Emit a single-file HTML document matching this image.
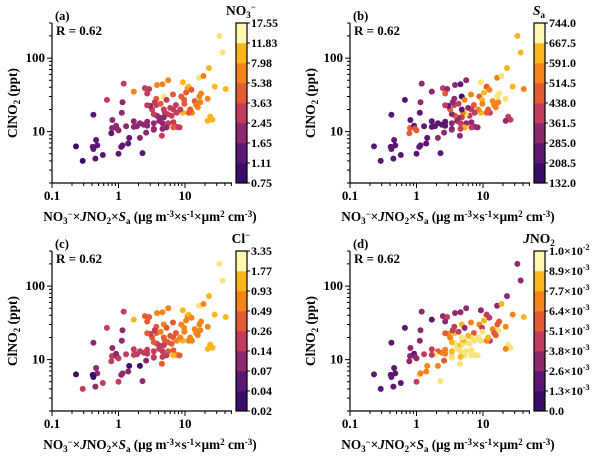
<!DOCTYPE html>
<html><head><meta charset="utf-8"><style>
html,body{margin:0;padding:0;background:#fff}
svg{display:block;font-family:"Liberation Serif",serif;font-weight:bold}
</style></head><body>
<svg id="chart" width="600" height="458" viewBox="0 0 600 458"></svg>
<script>
// shared point data: x = NO3-×JNO2×Sa, y = ClNO2 (ppt)
const xs=[33,37,23,16.3,19,28,41,22,24,26,22,5.6,9.3,4.6,3.8,1.7,1.2,2.5,2.9,2.7,4.8,3.7,5.3,6.6,8.8,10.4,11,11.4,12.5,16.5,17.5,14,17,15.6,12.7,14.7,9.7,9.8,9.3,11.4,12,8.5,7.3,6.7,6,7.5,6.3,5.5,5,4.8,4.2,3.8,3.4,3.2,3.7,4.3,4.8,4.1,4.6,5.6,6.7,7.6,6.7,8.3,5.3,4.6,3.4,3.4,2.7,2.4,2.1,1.9,1.7,1.3,1.7,2.7,3.4,4.5,3,3.5,2.7,1.15,1.12,0.67,0.81,0.8,0.92,0.95,0.78,1.0,1.1,1.15,1.45,1.4,0.42,1.0,0.58,0.46,0.48,0.41,0.42,0.23,0.29,0.45,2.3,2.1,2.6];
const ys=[200,119,73,54,57,41,38,28,16,14.5,14,50,47,44,43,35,45,39,38,33,30,28,27,32,30,34,39,41,37,30,33,26,25,21.5,18,23,27,24,18,18,20,20,23,20,21,18,16.4,17.3,18,15.6,15.4,16.4,17.3,20,23,24,20,14,13,13,13.4,11.6,11.4,11.4,11.4,10.9,13,10.9,12,12.4,13,11.8,11.6,11.8,13.8,13.6,10.6,8.8,22.4,25,22.8,25,18,27,14.4,11.2,12,11,9.5,10.4,6.2,6.5,8.2,6.9,17,5.0,4.8,7.7,6.5,6.2,5.8,6.3,4.0,4.3,5.1,8.2,9.7];
// colour levels (colorbar bin index 0-7) per panel
const levA=[7,7,6,7,5,6,6,5,6,6,6,5,6,5,5,5,3,3,3,3,7,4,3,4,4,4,5,6,4,5,5,4,5,5,5,5,4,4,6,4,4,3,3,3,3,3,3,3,3,2,2,2,3,3,3,4,3,2,2,3,3,3,4,3,2,2,2,2,2,2,2,2,2,2,2,2,2,3,2,3,3,2,2,3,2,2,2,2,1,2,1,1,1,1,1,1,1,1,1,1,1,0,0,1,1,2,2];
const levB=[6,6,6,5,7,6,5,7,3,3,2,2,7,1,2,2,2,3,2,4,0,2,5,5,4,6,7,4,5,7,7,5,5,5,3,5,6,5,6,4,4,5,4,3,2,3,3,7,5,3,2,4,2,4,3,3,1,2,3,2,2,2,3,2,6,3,2,2,1,1,1,1,1,1,1,1,2,2,1,2,3,2,1,1,1,4,1,4,4,4,1,1,1,1,1,1,1,1,1,1,1,1,1,1,1,2,2];
const levC=[7,7,6,7,5,6,6,5,6,6,6,5,6,5,5,6,3,4,4,4,5,4,4,4,5,5,5,6,5,5,5,5,5,5,5,5,5,5,6,5,5,5,4,4,4,5,4,4,4,3,3,3,4,4,4,5,4,3,3,4,4,5,6,4,3,3,3,3,3,3,3,3,3,3,3,3,3,4,3,3,4,2,2,3,2,3,2,2,3,3,2,2,0,2,2,3,3,2,2,0,0,0,3,2,2,0,2];
const levD=[2,2,2,2,6,5,6,5,7,7,5,2,2,2,2,1,2,2,3,2,6,3,2,5,5,6,7,3,3,4,4,5,7,4,3,4,3,7,7,5,6,7,4,7,6,7,7,7,6,7,6,7,6,5,6,3,7,7,7,7,7,7,7,7,7,6,6,6,5,5,4,7,3,3,3,5,7,7,5,3,4,2,2,1,2,2,1,2,2,2,7,5,5,5,1,3,1,1,1,1,1,1,1,1,7,5,4];
// colorbar tick labels per panel
const ticksA=["0.75","1.11","1.65","2.45","3.63","5.38","7.98","11.83","17.55"];
const ticksB=["132.0","208.5","285.0","361.5","438.0","514.5","591.0","667.5","744.0"];
const ticksC=["0.02","0.04","0.07","0.14","0.26","0.49","0.93","1.77","3.35"];
const ticksD=[["0.0",""],["1.3×10","-3"],["2.6×10","-3"],["3.8×10","-3"],["5.1×10","-3"],["6.4×10","-3"],["7.7×10","-3"],["8.9×10","-3"],["1.0×10","-2"]];
const binColors=["#3a0d6a","#5c1772","#8f296f","#c23d5b","#e45a35","#f5841a","#fbb61e","#f8e47a"];
const binTop="#fcf8b0";

const svg=document.getElementById('chart');
const NS="http://www.w3.org/2000/svg";
function el(tag,attrs,parent){const e=document.createElementNS(NS,tag);for(const k in attrs)e.setAttribute(k,attrs[k]);(parent||svg).appendChild(e);return e;}

function drawPanel(ox,oy,label,levels,ticks,titleFn,key){
  const g=el('g',{transform:`translate(${ox},${oy})`});
  
  
  const L=52,R=232,T=23,B=183;
  const xmin=-1,xmax=Math.log10(51),ymin=Math.log10(2),ymax=Math.log10(300);
  const sx=v=>L+(Math.log10(v)-xmin)/(xmax-xmin)*(R-L);
  const sy=v=>B-(Math.log10(v)-ymin)/(ymax-ymin)*(B-T);
  const pg=el('g',{},g);
  
  
  for(let i=0;i<xs.length;i++){
    const c=el('circle',{cx:sx(xs[i]).toFixed(1),cy:sy(ys[i]).toFixed(1),r:3,fill:binColors[levels[i]]},pg);
    
    
  }
  const ax=el('path',{d:`M${L},${T}V${B}H${R}`,stroke:'#000','stroke-width':1.2,fill:'none'},g);
  
  
  let tk='';
  for(let d=-1;d<=1;d++){for(let m=1;m<10;m++){const v=m*Math.pow(10,d);if(v>51)break;const x=sx(v);tk+=`M${x.toFixed(1)},${B}v${m==1?5:3}`;}}
  for(let d=0;d<=2;d++){for(let m=1;m<10;m++){const v=m*Math.pow(10,d);if(v<2||v>300)continue;const y=sy(v);tk+=`M${L},${y.toFixed(1)}h${m==1?-5:-3}`;}}
  el('path',{d:tk,stroke:'#000','stroke-width':1,fill:'none'},g);
  const xl=[["0.1",0.1],["1",1],["10",10]];
  xl.forEach(t=>{const e=el('text',{x:sx(t[1]),y:B+17,'text-anchor':'middle','font-size':13},g);e.textContent=t[0];});
  [["100",100],["10",10]].forEach(t=>{const e=el('text',{x:L-7,y:sy(t[1])+4,'text-anchor':'end','font-size':13},g);e.textContent=t[0];});
  const yt=el('text',{x:0,y:0,transform:`translate(17,103) rotate(-90)`,'text-anchor':'middle','font-size':13.5},g);
  yt.innerHTML='ClNO<tspan font-size="9" dy="3">2</tspan><tspan dy="-3"> (ppt)</tspan>';
  
  
  const xt=el('text',{x:150,y:221,'text-anchor':'middle','font-size':13.2},g);
  xt.innerHTML='NO<tspan font-size="9" dy="3">3</tspan><tspan font-size="9" dy="-7">−</tspan><tspan dy="4">×</tspan><tspan font-style="italic">J</tspan>NO<tspan font-size="9" dy="3">2</tspan><tspan dy="-3">×</tspan><tspan font-style="italic">S</tspan><tspan font-size="9" dy="3">a</tspan><tspan dy="-3"> (μg m</tspan><tspan font-size="9" dy="-4">-3</tspan><tspan dy="4">×s</tspan><tspan font-size="9" dy="-4">-1</tspan><tspan dy="4">×μm</tspan><tspan font-size="9" dy="-4">2</tspan><tspan dy="4"> cm</tspan><tspan font-size="9" dy="-4">-3</tspan><tspan dy="4">)</tspan>';
  
  
  const pl=el('text',{x:55,y:20,'font-size':12.5},g);pl.textContent='('+label+')';
  
  
  const rt=el('text',{x:56,y:35,'font-size':13},g);rt.textContent='R = 0.62';
  
  
  const cb=el('g',{},g);
  
  
  const cx=236,cw=11,n=8,h=(B-T)/n;
  for(let k=0;k<n;k++){el('rect',{x:cx,y:B-(k+1)*h,width:cw,height:h+0.3,fill:k==7?binTop:binColors[k]},cb);}
  el('rect',{x:cx,y:T,width:cw,height:B-T,fill:'none',stroke:'#000','stroke-width':1.2},cb);
  for(let k=0;k<=n;k++){
    const y=B-k*h;
    el('path',{d:`M${cx+cw},${y}h3`,stroke:'#000'},cb);
    const t=el('text',{x:cx+cw+4,y:y+4,'font-size':12},cb);
    const tv=ticks[k];
    if(Array.isArray(tv)){t.innerHTML=tv[0]+(tv[1]?`<tspan font-size="8" dy="-5">${tv[1]}</tspan>`:'');}
    else t.textContent=tv;
    
    
  }
  const ct=el('text',{x:241,y:15,'text-anchor':'middle','font-size':13.5},cb);
  ct.innerHTML=titleFn;
  
  
}
drawPanel(0,0,'a',levA,ticksA,'NO<tspan font-size="9" dy="3">3</tspan><tspan font-size="9" dy="-8">−</tspan>','a');
drawPanel(298,0,'b',levB,ticksB,'<tspan font-style="italic">S</tspan><tspan font-size="9" dy="3">a</tspan>','b');
drawPanel(0,228,'c',levC,ticksC,'Cl<tspan font-size="9" dy="-5">−</tspan>','c');
drawPanel(298,228,'d',levD,ticksD,'<tspan font-style="italic">J</tspan>NO<tspan font-size="9" dy="3">2</tspan>','d');
</script>
</body></html>
